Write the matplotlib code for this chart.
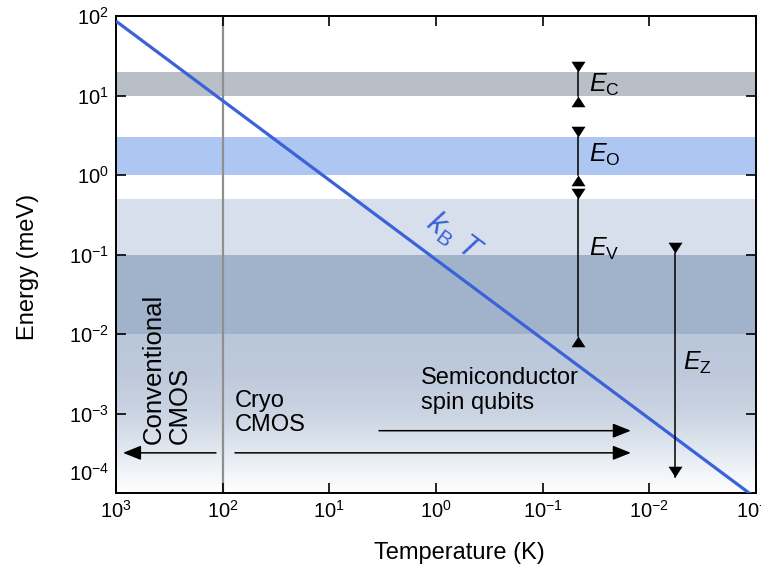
import numpy as np
import matplotlib
matplotlib.use("Agg")
import matplotlib.pyplot as plt
from matplotlib.path import Path
from matplotlib.colors import to_rgb
from matplotlib.transforms import ScaledTranslation

plt.rcParams['font.family'] = ['Liberation Sans', 'DejaVu Sans']
plt.rcParams['mathtext.fontset'] = 'custom'
plt.rcParams['mathtext.rm'] = 'Liberation Sans'
plt.rcParams['mathtext.it'] = 'Liberation Sans:italic'
plt.rcParams['mathtext.bf'] = 'Liberation Sans:bold'

# ---------------- data ----------------
# thermal energy line k_B T (endpoints)
line_T = [1e3, 1e-3]
line_E = [86.17, 8.617e-5]

# horizontal energy bands (meV)
band_low = [10.0, 1.0, 0.1, 0.01]
band_high = [20.0, 3.0, 0.5, 0.1]
band_colors = ['#b8bfc6', '#adc6f2', '#d6dfeb', '#a1b3cb']

# gradient region below the bands (log10 meV -> colour)
grad_logE = [-4.0, -3.75, -3.4, -3.0, -2.5, -2.0]
grad_colors = ['#ffffff', '#f2f5f9', '#dee5ee', '#cad4e2', '#bec9dc', '#b9c7d9']

# vertical marker line (K)
cmos_T = 100.0

# energy scales
scale_names = [r'$E_\mathrm{C}$', r'$E_\mathrm{O}$', r'$E_\mathrm{V}$', r'$E_\mathrm{Z}$']
scale_T = [0.047, 0.047, 0.047, 0.00575]
scale_low = [10.0, 1.0, 0.0095, 1.6e-4]
scale_high = [20.0, 3.0, 0.5, 0.105]
label_T = [0.0368, 0.0368, 0.0368, 0.00484]
label_E = [13.5, 1.79, 0.116, 4.38e-3]

# horizontal arrows (start T, end T, energy)
arrow_T0 = [115.5, 76.6, 3.42]
arrow_T1 = [860.0, 0.0149, 0.0149]
arrow_E = [3.2e-4, 3.2e-4, 6.08e-4]

# region texts
region_texts = ['Conventional\nCMOS', 'Cryo\nCMOS', 'Semiconductor\nspin qubits']
region_T = [335.0, 76.6, 1.38]
region_E = [4.15e-4, 1.98e-3, 3.85e-3]

xticks = [1e3, 1e2, 1e1, 1e0, 1e-1, 1e-2, 1e-3]
xtick_labels = [r'$10^{3}$', r'$10^{2}$', r'$10^{1}$', r'$10^{0}$',
                r'$10^{-1}$', r'$10^{-2}$', r'$10^{-3}$']
yticks = [1e-4, 1e-3, 1e-2, 1e-1, 1e0, 1e1, 1e2]
ytick_labels = [r'$10^{-4}$', r'$10^{-3}$', r'$10^{-2}$', r'$10^{-1}$',
                r'$10^{0}$', r'$10^{1}$', r'$10^{2}$']

kbt_label_T = 0.68
kbt_label_E = 0.165

BLUE = '#3b62d8'

# ---------------- figure ----------------
fig = plt.figure(figsize=(7.61, 5.70), dpi=100)
ax = fig.add_axes([116 / 761, 1 - 493 / 570, 640 / 761, 477 / 570])
ax.set_xscale('log')
ax.set_yscale('log')
ax.set_xlim(1e3, 1e-3)
ax.set_ylim(1e-4, 1e2)

# bands
for lo, hi, c in zip(band_low, band_high, band_colors):
    ax.axhspan(lo, hi, color=c, lw=0, zorder=0)

# gradient (axes fraction 0 .. 1/3 == 1e-4 .. 1e-2)
n = 200
ys = np.linspace(-4, -2, n)
rgb = np.array([to_rgb(c) for c in grad_colors])
img = np.stack([np.interp(ys, grad_logE, rgb[:, k]) for k in range(3)], axis=-1)
img = img[::-1, None, :]
ax.imshow(img, extent=(0, 1, 0, 2 / 6), transform=ax.transAxes,
          aspect='auto', zorder=0, interpolation='bilinear')

# vertical line at 100 K
ax.axvline(cmos_T, color='#8f8f8f', lw=1.6, zorder=1)

# k_B T line
ax.plot(line_T, line_E, color=BLUE, lw=2.3, zorder=3, solid_capstyle='butt',
        clip_on=True)
ax.text(kbt_label_T, kbt_label_E, r'$k_\mathrm{B}\ T$', color=BLUE,
        fontsize=22, rotation=-36.7, rotation_mode='anchor',
        ha='center', va='center', zorder=4)

# triangle markers with tip at origin
tri_down = Path([(0, 0), (-0.65, 1), (0.65, 1), (0, 0)],
                [Path.MOVETO, Path.LINETO, Path.LINETO, Path.CLOSEPOLY])
tri_up = Path([(0, 0), (-0.65, -1), (0.65, -1), (0, 0)],
              [Path.MOVETO, Path.LINETO, Path.LINETO, Path.CLOSEPOLY])
MS = 15.5

for i, (name, T, lo, hi) in enumerate(zip(scale_names, scale_T, scale_low, scale_high)):
    ax.plot([T, T], [lo, hi], color='k', lw=1.1, zorder=5)
    ax.plot([T], [hi], marker=tri_down, ms=MS, color='k', mew=0, zorder=5)
    if i < 3:
        ax.plot([T], [lo], marker=tri_up, ms=MS, color='k', mew=0, zorder=5)
    else:
        ax.plot([T], [lo], marker=tri_down, ms=MS, color='k', mew=0, zorder=5)
    ax.text(label_T[i], label_E[i], name, fontsize=18, ha='left', va='center',
            zorder=6)

# horizontal arrows
for t0, t1, e in zip(arrow_T0, arrow_T1, arrow_E):
    ax.annotate('', xy=(t1, e), xytext=(t0, e),
                arrowprops=dict(arrowstyle='-|>,head_length=0.55,head_width=0.22',
                                mutation_scale=20, color='k', lw=1.1,
                                shrinkA=0, shrinkB=0), zorder=6)

# region texts
ax.text(region_T[0], region_E[0], region_texts[0], rotation=90, fontsize=18.5,
        ha='center', va='bottom', multialignment='left', linespacing=1.1, zorder=6)
ax.text(region_T[1], region_E[1], region_texts[1], fontsize=17,
        ha='left', va='top', linespacing=1.15, zorder=6)
ax.text(region_T[2], region_E[2], region_texts[2], fontsize=17,
        ha='left', va='top', linespacing=1.2, zorder=6)

# axes styling
ax.set_xticks(xticks)
ax.set_xticklabels(xtick_labels)
ax.set_yticks(yticks)
ax.set_yticklabels(ytick_labels)
ax.minorticks_off()
ax.tick_params(which='major', direction='in', length=7, width=1.2,
               top=True, right=True, labelsize=14.5, pad=5)
for s in ax.spines.values():
    s.set_linewidth(1.4)

lab = ax.get_yticklabels()[0]
lab.set_va('bottom')
lab.set_transform(lab.get_transform() + ScaledTranslation(0, 6 / 72, fig.dpi_scale_trans))

ax.set_xlabel('Temperature (K)', fontsize=17)
ax.set_ylabel('Energy (meV)', fontsize=17)
ax.xaxis.set_label_coords((459 - 116) / 640, -(553 - 493) / 477)
ax.xaxis.label.set_va('center')
ax.yaxis.set_label_coords((28 - 116) / 640, (493 - 267) / 477)
ax.yaxis.label.set_va('center')

fig.savefig('out.png', dpi=100)
